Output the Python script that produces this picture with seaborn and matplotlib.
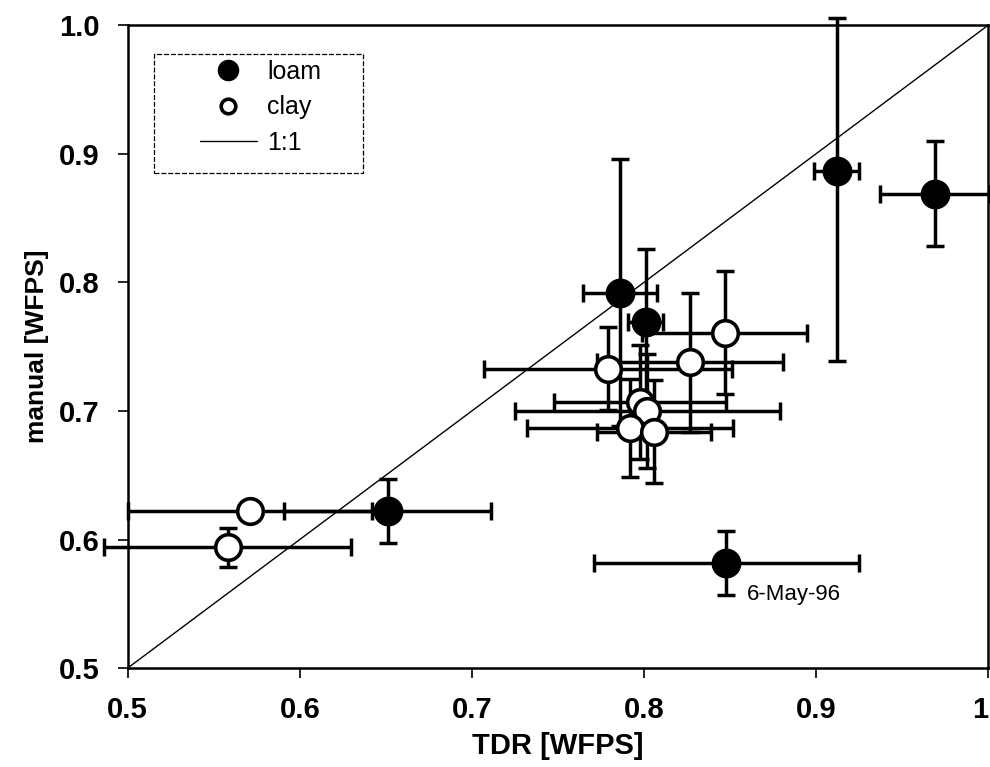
import matplotlib
matplotlib.use("Agg")
import matplotlib.pyplot as plt
from matplotlib.lines import Line2D
from matplotlib.patches import Rectangle
import seaborn as sns
import pandas as pd

# ---- data ----
loam_x = [0.651, 0.786, 0.801, 0.912, 0.969, 0.848]
loam_y = [0.622, 0.792, 0.769, 0.887, 0.869, 0.582]
loam_xerr = [0.060, 0.0215, 0.010, 0.013, 0.032, 0.077]
loam_yerr_lo = [0.025, 0.104, 0.057, 0.148, 0.041, 0.025]
loam_yerr_hi = [0.025, 0.104, 0.057, 0.119, 0.041, 0.025]

clay_x = [0.571, 0.558, 0.779, 0.827, 0.847, 0.798, 0.802, 0.792, 0.806]
clay_y = [0.622, 0.594, 0.733, 0.738, 0.761, 0.707, 0.700, 0.687, 0.684]
clay_xerr = [0.071, 0.072, 0.072, 0.054, 0.048, 0.050, 0.077, 0.060, 0.033]
clay_yerr = [0.004, 0.015, 0.032, 0.054, 0.048, 0.044, 0.044, 0.038, 0.040]

x_ticks = [0.5, 0.6, 0.7, 0.8, 0.9, 1.0]
x_tick_labels = ["0.5", "0.6", "0.7", "0.8", "0.9", "1"]
y_ticks = [0.5, 0.6, 0.7, 0.8, 0.9, 1.0]
y_tick_labels = ["0.5", "0.6", "0.7", "0.8", "0.9", "1.0"]

annot_text = "6-May-96"
annot_xy = (0.860, 0.557)

# ---- style ----
sns.set_style("ticks")
plt.rcParams["font.family"] = ["Liberation Sans", "DejaVu Sans"]
plt.rcParams["text.color"] = "black"
plt.rcParams["axes.labelcolor"] = "black"

fig = plt.figure(figsize=(9.9, 7.67), dpi=100)
ax = fig.add_axes([0.129, 0.129, 0.869, 0.838])

df = pd.concat([
    pd.DataFrame({"TDR": loam_x, "manual": loam_y, "soil": "loam"}),
    pd.DataFrame({"TDR": clay_x, "manual": clay_y, "soil": "clay"}),
], ignore_index=True)

# 1:1 line
ax.plot([0.5, 1.0], [0.5, 1.0], color="black", lw=1.0, zorder=1)

eb_kw = dict(fmt="none", ecolor="black", elinewidth=2.5, capsize=6.5,
             capthick=2.5, zorder=2, clip_on=False)
ax.errorbar(loam_x, loam_y, xerr=loam_xerr,
            yerr=[loam_yerr_lo, loam_yerr_hi], **eb_kw)
ax.errorbar(clay_x, clay_y, xerr=clay_xerr, yerr=clay_yerr, **eb_kw)

sns.scatterplot(data=df[df.soil == "loam"], x="TDR", y="manual", ax=ax,
                color="black", edgecolor="black", s=400, marker="o",
                linewidth=1.5, zorder=4, legend=False, clip_on=False)
sns.scatterplot(data=df[df.soil == "clay"], x="TDR", y="manual", ax=ax,
                color="white", edgecolor="black", s=340, marker="o",
                linewidth=2.6, zorder=4, legend=False, clip_on=False)

ax.text(annot_xy[0], annot_xy[1], annot_text, fontsize=16, color="black",
        ha="left", va="center", zorder=5)

ax.set_xlim(0.5, 1.0)
ax.set_ylim(0.5, 1.0)
ax.set_xticks(x_ticks)
ax.set_xticklabels(x_tick_labels)
ax.set_yticks(y_ticks)
ax.set_yticklabels(y_tick_labels)
ax.tick_params(axis="both", direction="out", length=7, width=1.2,
               labelsize=21, pad=13, colors="black")
for lab in ax.get_xticklabels() + ax.get_yticklabels():
    lab.set_fontweight("bold")
ax.get_xticklabels()[-1].set_horizontalalignment("right")
ax.set_xlabel("TDR [WFPS]", fontsize=21, fontweight="bold", labelpad=6,
              color="black")
ax.set_ylabel("manual [WFPS]", fontsize=19, fontweight="bold", labelpad=7,
              color="black")
for sp in ax.spines.values():
    sp.set_visible(True)
    sp.set_linewidth(1.8)
    sp.set_color("black")

# legend box (dashed frame) drawn separately, legend placed inside
box = Rectangle((0.031, 0.770), 0.242, 0.186, transform=ax.transAxes,
                fill=True, facecolor="white", edgecolor="black",
                linewidth=0.9, linestyle=(0, (4, 1.5)), zorder=6)
ax.add_patch(box)

handles = [
    Line2D([], [], marker="o", ls="none", color="black", markersize=14.5,
           markerfacecolor="black", label="loam"),
    Line2D([], [], marker="o", ls="none", color="black", markersize=10.5,
           markerfacecolor="white", markeredgewidth=2.6, label="clay"),
    Line2D([], [], color="black", lw=1.0, label="1:1"),
]
leg = ax.legend(handles=handles, loc="upper left",
                bbox_to_anchor=(0.0837, 0.946), fontsize=18,
                frameon=False, handlelength=2.3, handletextpad=0.4,
                borderpad=0, labelspacing=0.45, borderaxespad=0)
for t in leg.get_texts():
    t.set_color("black")
leg.set_zorder(7)

fig.savefig("out.png", dpi=100)
